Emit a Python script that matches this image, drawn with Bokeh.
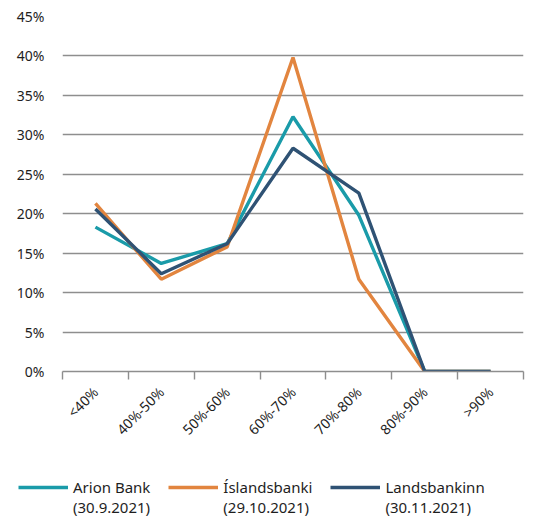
from bokeh.plotting import figure
from bokeh.models import Range1d, FixedTicker, NumeralTickFormatter, Legend, LegendItem
from bokeh.layouts import column
from bokeh.embed import file_html
from bokeh.resources import INLINE

categories = ["<40%", "40%-50%", "50%-60%", "60%-70%", "70%-80%", "80%-90%", ">90%"]
arion = [0.183, 0.137, 0.162, 0.323, 0.198, 0.0, 0.0]
islandsbanki = [0.213, 0.117, 0.158, 0.398, 0.117, 0.0, 0.0]
landsbankinn = [0.206, 0.124, 0.162, 0.283, 0.226, 0.0, 0.0]
series_names = ["\nArion Bank\n(30.9.2021)", "\nÍslandsbanki\n(29.10.2021)", "\nLandsbankinn\n(30.11.2021)"]
y_ticks = [0.0, 0.05, 0.10, 0.15, 0.20, 0.25, 0.30, 0.35, 0.40, 0.45]

colors = ["#1a9ba9", "#e2853f", "#2f5274"]
FONT = "Noto Sans"
TXT = "#1e1e1e"
GRID = "#8e8e8e"
LW = 3.4

n = len(categories)
xs = [i + 0.5 for i in range(n)]
all_series = [arion, islandsbanki, landsbankinn]

p = figure(width=545, height=450, output_backend="svg", toolbar_location=None,
           x_range=Range1d(0, n), y_range=Range1d(0, 0.45),
           min_border_left=62, min_border_right=22, min_border_top=16, min_border_bottom=79)
p.frame_align = False
p.outline_line_color = None
p.xgrid.grid_line_color = None
p.ygrid.grid_line_color = GRID
p.ygrid.grid_line_width = 1.4
p.ygrid.ticker = FixedTicker(ticks=y_ticks)

for vals, c in zip(all_series, colors):
    p.line(xs, vals, line_color=c, line_width=LW)

# y axis
p.yaxis.ticker = FixedTicker(ticks=y_ticks)
p.yaxis.formatter = NumeralTickFormatter(format="0%")
p.yaxis.axis_line_color = None
p.yaxis.major_tick_line_color = None
p.yaxis.minor_tick_line_color = None
p.yaxis.major_tick_out = 0
p.yaxis.major_tick_in = 0
p.yaxis.major_label_standoff = 18
p.yaxis.major_label_text_font = FONT
p.yaxis.major_label_text_font_size = "14px"
p.yaxis.major_label_text_color = TXT

# x axis
p.xaxis.ticker = FixedTicker(ticks=xs, minor_ticks=list(range(n + 1)))
p.xaxis.major_label_overrides = {x: c for x, c in zip(xs, categories)}
p.xaxis.axis_line_color = GRID
p.xaxis.axis_line_width = 1.4
p.xaxis.major_tick_line_color = None
p.xaxis.major_tick_out = 0
p.xaxis.major_tick_in = 0
p.xaxis.minor_tick_line_color = GRID
p.xaxis.minor_tick_line_width = 1.4
p.xaxis.minor_tick_out = 8
p.xaxis.minor_tick_in = 0
p.xaxis.major_label_orientation = 0.785398
p.xaxis.major_label_standoff = 10
p.xaxis.major_label_text_font = FONT
p.xaxis.major_label_text_font_size = "14px"
p.xaxis.major_label_text_color = TXT

# legend strip (series drawn outside its visible range; only the legend shows)
p2 = figure(width=545, height=72, output_backend="svg", toolbar_location=None,
            x_range=Range1d(100, 101), y_range=Range1d(100, 101),
            x_axis_location=None, y_axis_location=None,
            min_border_left=0, min_border_right=0, min_border_top=0, min_border_bottom=0)
p2.frame_align = False
p2.grid.grid_line_color = None
p2.outline_line_color = None
leg_renderers = [p2.line(xs, vals, line_color=c, line_width=LW) for vals, c in zip(all_series, colors)]
legend = Legend(items=[LegendItem(label=nm, renderers=[r]) for nm, r in zip(series_names, leg_renderers)],
                orientation="horizontal", location=(18, 5),
                padding=0, margin=0, spacing=18, label_standoff=5,
                glyph_width=50, glyph_height=20,
                border_line_color=None, background_fill_alpha=0,
                label_text_font=FONT, label_text_font_size="15px", label_text_color=TXT,
                label_text_line_height=1.45)
p2.add_layout(legend, "center")

open("out.html", "w").write(file_html(column(p, p2, spacing=0), INLINE))
